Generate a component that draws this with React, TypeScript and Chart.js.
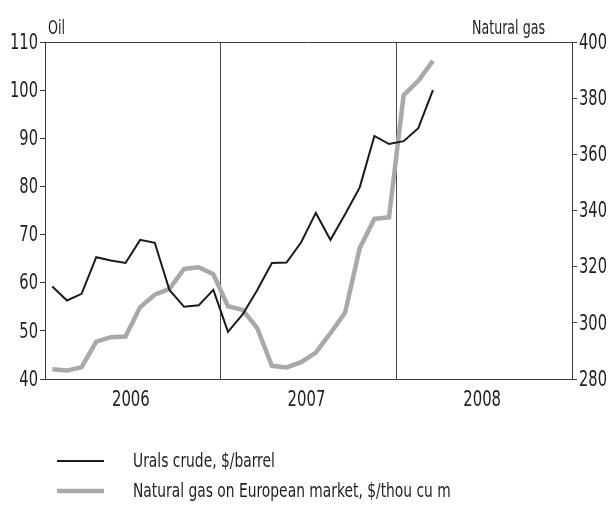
import React, { useEffect, useRef } from "react";
import { Chart, registerables } from "chart.js";

Chart.register(...registerables);

const years = ["2006", "2007", "2008"];
const yearCentres = [6, 18, 30];
const months = [
  "Jan 2006", "Feb 2006", "Mar 2006", "Apr 2006", "May 2006", "Jun 2006",
  "Jul 2006", "Aug 2006", "Sep 2006", "Oct 2006", "Nov 2006", "Dec 2006",
  "Jan 2007", "Feb 2007", "Mar 2007", "Apr 2007", "May 2007", "Jun 2007",
  "Jul 2007", "Aug 2007", "Sep 2007", "Oct 2007", "Nov 2007", "Dec 2007",
  "Jan 2008", "Feb 2008", "Mar 2008",
];
const oilValues = [
  59.2, 56.3, 57.7, 65.3, 64.6, 64.1, 68.9, 68.3, 58.5, 55.0, 55.3, 58.5,
  49.8, 53.4, 58.5, 64.1, 64.2, 68.4, 74.5, 68.9, 74.2, 79.8, 90.5, 88.8,
  89.4, 92.1, 100.0,
];
const gasValues = [
  283.5, 283.0, 284.2, 293.3, 294.9, 295.1, 305.6, 310.0, 312.1, 319.2, 319.8, 317.3,
  305.9, 304.6, 298.1, 284.7, 284.1, 286.0, 289.4, 296.3, 303.7, 326.6, 337.0, 337.6,
  381.1, 386.2, 393.3,
];
const oilTicks = [40, 50, 60, 70, 80, 90, 100, 110];
const gasTicks = [280, 300, 320, 340, 360, 380, 400];
const seriesNames = ["Urals crude, $/barrel", "Natural gas on European market, $/thou cu m"];
const axisTitles = ["Oil", "Natural gas"];

const FONT = '"Liberation Sans Narrow", "DejaVu Sans Condensed", "Arial Narrow", sans-serif';
const OIL_COLOR = "#1a1a1a";
const GAS_COLOR = "#a9a9a9";
const AXIS_COLOR = "#3a3a3a";
const TEXT_COLOR = "#1e1e1e";

function narrowText(ctx: any, text: string, x: number, y: number, size: number, sx: number, align: string, baseline: string) {
  ctx.save();
  ctx.font = `${size}px ${FONT}`;
  ctx.textAlign = align;
  ctx.textBaseline = baseline;
  ctx.fillStyle = TEXT_COLOR;
  ctx.translate(x, y);
  ctx.scale(sx, 1);
  ctx.fillText(text, 0, 0);
  ctx.restore();
}

const overlayPlugin = {
  id: "overlay",
  afterDraw(chart: any) {
    const { ctx, chartArea, scales } = chart;
    ctx.save();
    // top border
    ctx.strokeStyle = AXIS_COLOR;
    ctx.lineWidth = 1;
    ctx.beginPath();
    ctx.moveTo(chartArea.left, Math.round(chartArea.top) + 0.5);
    ctx.lineTo(chartArea.right, Math.round(chartArea.top) + 0.5);
    ctx.stroke();
    ctx.restore();

    // tick labels, placed through the chart's scales
    for (const v of oilTicks) {
      narrowText(ctx, String(v), chartArea.left - 7, scales.y.getPixelForValue(v) + 1, 22, 0.74, "right", "middle");
    }
    for (const v of gasTicks) {
      narrowText(ctx, String(v), chartArea.right + 7, scales.y2.getPixelForValue(v) + 1, 22, 0.74, "left", "middle");
    }
    years.forEach((t, i) => {
      narrowText(ctx, t, scales.x.getPixelForValue(yearCentres[i]) - 2, chartArea.bottom + 21, 22, 0.75, "center", "middle");
    });

    // axis titles
    narrowText(ctx, axisTitles[0], chartArea.left + 3, 34, 19, 0.74, "left", "alphabetic");
    narrowText(ctx, axisTitles[1], chartArea.right - 27, 34, 19, 0.74, "right", "alphabetic");

    // legend
    const items = [
      { color: OIL_COLOR, width: 2, label: seriesNames[0], y: 461 },
      { color: GAS_COLOR, width: 4.5, label: seriesNames[1], y: 491 },
    ];
    for (const it of items) {
      ctx.save();
      ctx.strokeStyle = it.color;
      ctx.lineWidth = it.width;
      ctx.beginPath();
      ctx.moveTo(57, it.y);
      ctx.lineTo(104, it.y);
      ctx.stroke();
      ctx.restore();
      narrowText(ctx, it.label, 133, it.y + 1, 19, 0.81, "left", "middle");
    }
  },
};

export default function App() {
  const ref = useRef<HTMLCanvasElement>(null);
  useEffect(() => {
    if (!ref.current) return;
    const chart = new Chart(ref.current, {
      type: "line",
      data: {
        labels: months,
        datasets: [
          {
            label: seriesNames[0],
            data: oilValues.map((v, i) => ({ x: i + 0.5, y: v })),
            borderColor: OIL_COLOR,
            borderWidth: 2,
            pointRadius: 0,
            tension: 0,
            yAxisID: "y",
            xAxisID: "x",
          },
          {
            label: seriesNames[1],
            data: gasValues.map((v, i) => ({ x: i + 0.5, y: v })),
            borderColor: GAS_COLOR,
            borderWidth: 4.5,
            pointRadius: 0,
            tension: 0,
            yAxisID: "y2",
            xAxisID: "x",
          },
        ],
      },
      plugins: [overlayPlugin],
      options: {
        animation: false,
        responsive: false,
        events: [],
        layout: { padding: { top: 42, left: 0, right: 0, bottom: 0 } },
        plugins: { legend: { display: false }, tooltip: { enabled: false } },
        scales: {
          x: {
            type: "linear",
            min: 0,
            max: 36,
            afterBuildTicks: (scale: any) => {
              scale.ticks = [0, 6, 12, 18, 24, 30, 36].map((v) => ({ value: v }));
            },
            afterFit: (scale: any) => {
              scale.height = 126;
            },
            ticks: { display: false },
            grid: {
              drawTicks: false,
              lineWidth: 1,
              color: (c: any) => {
                const v = c.tick ? c.tick.value : -1;
                return v === 12 || v === 24 ? "#4a4a4a" : "rgba(0,0,0,0)";
              },
            },
            border: { display: true, color: AXIS_COLOR, width: 1 },
          },
          y: {
            type: "linear",
            position: "left",
            min: 40,
            max: 110,
            afterBuildTicks: (scale: any) => {
              scale.ticks = oilTicks.map((v) => ({ value: v }));
            },
            afterFit: (scale: any) => {
              scale.width = 45;
            },
            ticks: { display: false },
            grid: {
              drawOnChartArea: false,
              drawTicks: true,
              tickLength: 5,
              tickColor: AXIS_COLOR,
            },
            border: { display: true, color: AXIS_COLOR, width: 1 },
          },
          y2: {
            type: "linear",
            position: "right",
            min: 280,
            max: 400,
            afterBuildTicks: (scale: any) => {
              scale.ticks = gasTicks.map((v) => ({ value: v }));
            },
            afterFit: (scale: any) => {
              scale.width = 39;
            },
            ticks: { display: false },
            grid: {
              drawOnChartArea: false,
              drawTicks: true,
              tickLength: 5,
              tickColor: AXIS_COLOR,
            },
            border: { display: true, color: AXIS_COLOR, width: 1 },
          },
        },
      },
    } as any);
    return () => chart.destroy();
  }, []);
  return (
    <div style={{ position: "absolute", left: 0, top: 0, width: 611, height: 505, background: "#fff" }}>
      <canvas ref={ref} width={611} height={505} style={{ display: "block" }} />
    </div>
  );
}
